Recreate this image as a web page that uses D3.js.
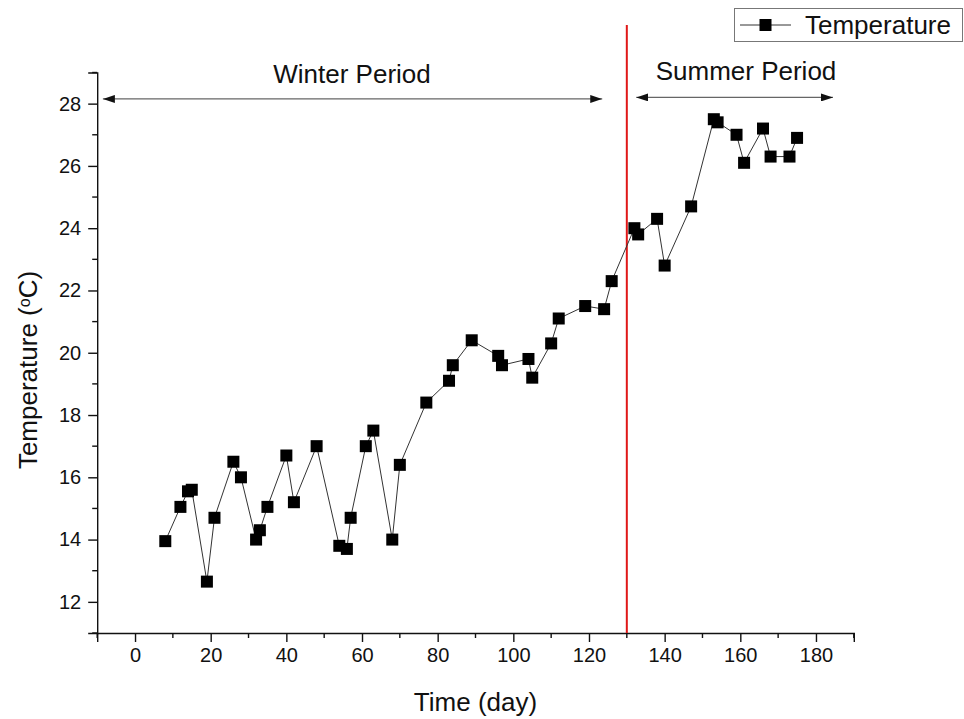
<!DOCTYPE html>
<html>
<head>
<meta charset="utf-8">
<script src="https://cdn.jsdelivr.net/npm/d3@7"></script>
<style>
  html, body { margin: 0; padding: 0; background: #fff; }
  svg { display: block; font-family: "Liberation Sans", Arial, sans-serif; }
</style>
</head>
<body>
<svg id="chart" width="964" height="719"></svg>
<script>
// ---- data ----
const days = [8, 12, 14, 15, 19, 21, 26, 28, 32, 33, 35, 40, 42, 48, 54, 56, 57, 61, 63, 68, 70,
  77, 83, 84, 89, 96, 97, 104, 105, 110, 112, 119, 124, 126, 132, 133, 138, 140, 147,
  153, 154, 159, 161, 166, 168, 173, 175];
const temps = [13.95, 15.05, 15.55, 15.6, 12.65, 14.7, 16.5, 16.0, 14.0, 14.3, 15.05, 16.7, 15.2, 17.0,
  13.8, 13.7, 14.7, 17.0, 17.5, 14.0, 16.4,
  18.4, 19.1, 19.6, 20.4, 19.9, 19.6, 19.8, 19.2, 20.3, 21.1, 21.5, 21.4, 22.3, 24.0, 23.8,
  24.3, 22.8, 24.7, 27.5, 27.4, 27.0, 26.1, 27.2, 26.3, 26.3, 26.9];
const xTicks = [0, 20, 40, 60, 80, 100, 120, 140, 160, 180];
const xMinorTicks = [-10, 10, 30, 50, 70, 90, 110, 130, 150, 170, 190];
const yTicks = [12, 14, 16, 18, 20, 22, 24, 26, 28];
const yMinorTicks = [11, 13, 15, 17, 19, 21, 23, 25, 27, 29];
const dividerDay = 130;
const winterRange = [-8.5, 123.5];
const summerRange = [132.5, 184.5];
const winterArrowTemp = 28.15;
const summerArrowTemp = 28.2;
const seriesName = "Temperature";

// ---- layout ----
const svg = d3.select("#chart");
const x = d3.scaleLinear().domain([-10, 190]).range([97.2, 853.8]);
const y = d3.scaleLinear().domain([11, 29]).range([633, 72.5]);

svg.append("defs").append("marker")
  .attr("id", "ah").attr("viewBox", "0 0 12 8").attr("refX", 12).attr("refY", 4)
  .attr("markerWidth", 12).attr("markerHeight", 8).attr("markerUnits", "userSpaceOnUse")
  .attr("orient", "auto-start-reverse")
  .append("path").attr("d", "M0,0 L12,4 L0,8 Z").attr("fill", "#111");

// axes
const xAxis = d3.axisBottom(x).tickValues(xTicks).tickSize(9).tickPadding(6).tickFormat(d3.format("d"));
const yAxis = d3.axisLeft(y).tickValues(yTicks).tickSize(9).tickPadding(7).tickFormat(d3.format("d"));

const gx = svg.append("g").attr("transform", `translate(0,${y(11)})`).call(xAxis);
gx.selectAll(".tick").data(xMinorTicks, d => d).enter();
gx.selectAll(".minor").data(xMinorTicks).enter().append("line").attr("class", "minor")
  .attr("x1", d => x(d)).attr("x2", d => x(d)).attr("y1", 0).attr("y2", 5).attr("stroke", "#111");

const gy = svg.append("g").attr("transform", `translate(${x(-10)},0)`).call(yAxis);
gy.selectAll(".minor").data(yMinorTicks).enter().append("line").attr("class", "minor")
  .attr("y1", d => y(d)).attr("y2", d => y(d)).attr("x1", 0).attr("x2", -5).attr("stroke", "#111");

[gx, gy].forEach(g => {
  g.select(".domain").attr("stroke", "#111").attr("stroke-width", 1.4);
  g.selectAll(".tick line").attr("stroke", "#111").attr("stroke-width", 1.4);
  g.selectAll(".minor").attr("stroke-width", 1.4);
  g.selectAll(".tick text").attr("fill", "#111").style("font-size", "20px")
    .style("font-family", "'Liberation Sans', Arial, sans-serif");
});

// axis titles
svg.append("text").attr("x", x(90)).attr("y", 711).attr("text-anchor", "middle")
  .style("font-size", "26px").attr("fill", "#111").text("Time (day)");

const yt = svg.append("text").attr("transform", "translate(37,370) rotate(-90)")
  .attr("text-anchor", "middle").style("font-size", "26px").attr("fill", "#111");
yt.append("tspan").text("Temperature (");
yt.append("tspan").attr("baseline-shift", "45%").style("font-size", "16px").text("o");
yt.append("tspan").text("C)");

// divider
svg.append("line").attr("x1", x(dividerDay)).attr("x2", x(dividerDay))
  .attr("y1", 25).attr("y2", y(11)).attr("stroke", "#e01818").attr("stroke-width", 2);

// period arrows
function periodArrow(range, t) {
  svg.append("line").attr("x1", x(range[0])).attr("x2", x(range[1]))
    .attr("y1", y(t)).attr("y2", y(t)).attr("stroke", "#666").attr("stroke-width", 1.2)
    .attr("marker-start", "url(#ah)").attr("marker-end", "url(#ah)");
}
periodArrow(winterRange, winterArrowTemp);
periodArrow(summerRange, summerArrowTemp);
svg.append("text").attr("x", 352).attr("y", 83).attr("text-anchor", "middle")
  .style("font-size", "26px").attr("fill", "#111").text("Winter Period");
svg.append("text").attr("x", 746).attr("y", 80).attr("text-anchor", "middle")
  .style("font-size", "26px").attr("fill", "#111").text("Summer Period");

// series
const pts = days.map((d, i) => ({ d, t: temps[i] }));
svg.append("path").datum(pts)
  .attr("d", d3.line().x(p => x(p.d)).y(p => y(p.t)))
  .attr("fill", "none").attr("stroke", "#333").attr("stroke-width", 1);
const ms = 12;
svg.append("g").selectAll("rect").data(pts).enter().append("rect")
  .attr("x", p => x(p.d) - ms / 2).attr("y", p => y(p.t) - ms / 2)
  .attr("width", ms).attr("height", ms).attr("fill", "#000");

// legend
const lg = svg.append("g");
lg.append("rect").attr("x", 734.5).attr("y", 8.5).attr("width", 228).attr("height", 33)
  .attr("fill", "#fff").attr("stroke", "#777").attr("stroke-width", 1);
lg.append("line").attr("x1", 740).attr("x2", 791).attr("y1", 25).attr("y2", 25)
  .attr("stroke", "#333").attr("stroke-width", 1);
lg.append("rect").attr("x", 765.5 - ms / 2).attr("y", 25 - ms / 2).attr("width", ms).attr("height", ms).attr("fill", "#000");
lg.append("text").attr("x", 805).attr("y", 34).style("font-size", "26px").attr("fill", "#111").text(seriesName);
</script>
</body>
</html>
